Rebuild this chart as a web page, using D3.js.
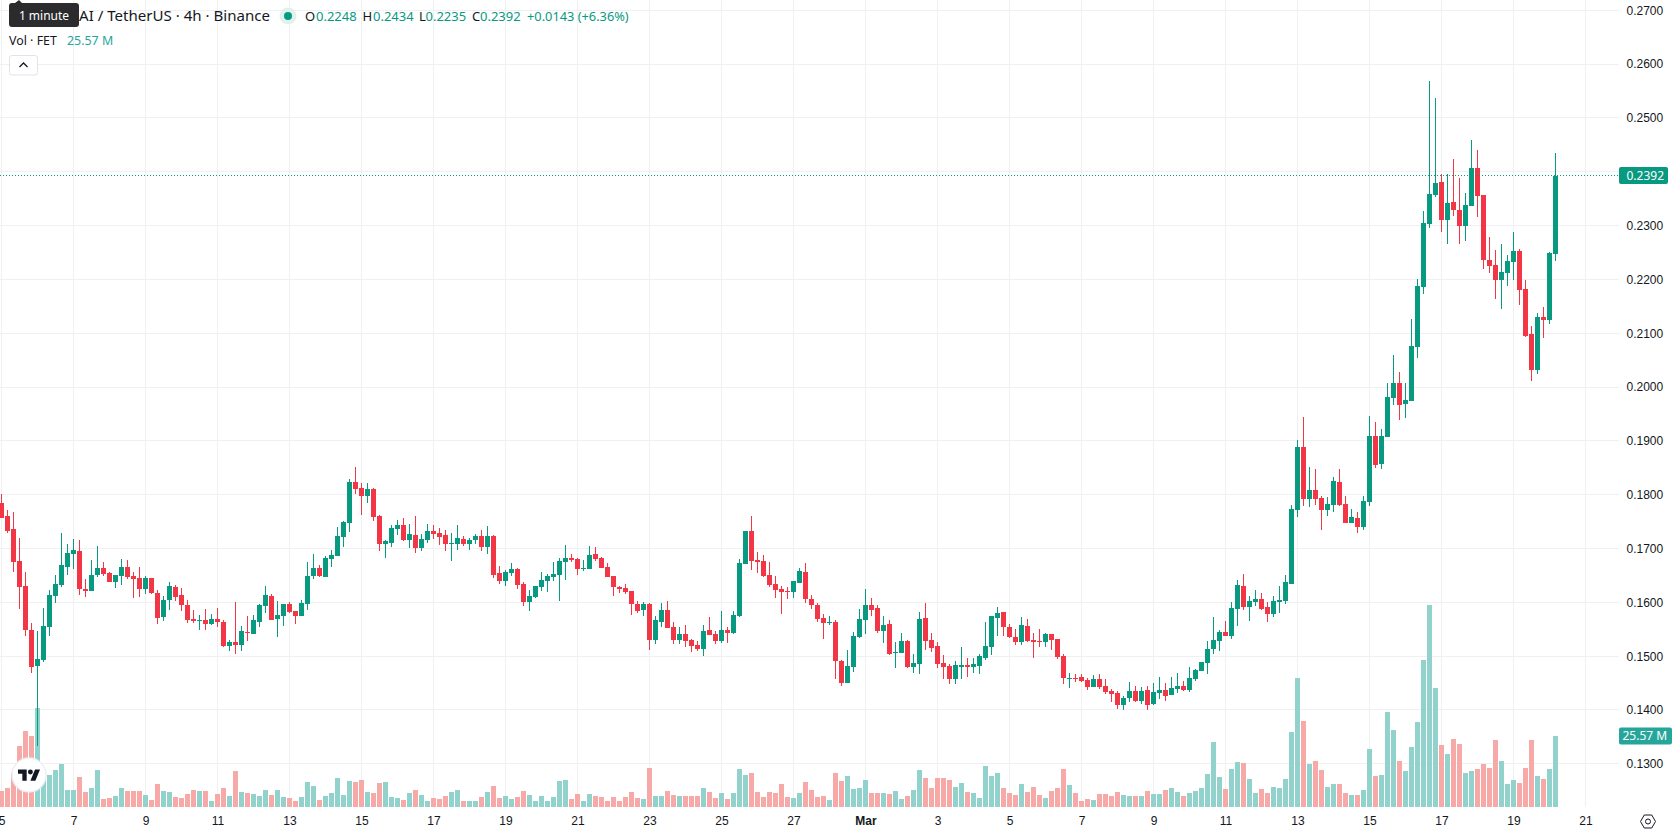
<!DOCTYPE html>
<html>
<head>
<meta charset="utf-8">
<title>FET / USDT 4h</title>
<script src="https://cdn.jsdelivr.net/npm/d3@7/dist/d3.min.js"></script>
<style>
  html, body { margin: 0; padding: 0; background: #fff; overflow: hidden; }
  svg { display: block; font-family: "Noto Sans", sans-serif; }
  .axis text { fill: #131722; font-size: 12px; }
  .axis .domain { display: none; }
</style>
</head>
<body>
<svg id="chart" width="1678" height="835"></svg>
<script>
// FET/USDT 4-hour candles, oldest first; the first bar opens at 5 Feb 2023 00:00 UTC.
const opens = [
.1785,.1760,.1736,.1677,.1630,.1549,.1482,.1493,.1554,.1612,
.1632,.1666,.1690,.1695,.1625,.1621,.1651,.1664,.1655,.1638,
.1649,.1666,.1649,.1645,.1625,.1645,.1617,.1573,.1604,.1628,
.1614,.1595,.1569,.1565,.1567,.1560,.1569,.1563,.1519,.1526,
.1521,.1545,.1541,.1563,.1593,.1612,.1569,.1575,.1597,.1584,
.1575,.1597,.1649,.1664,.1647,.1680,.1686,.1721,.1747,.1824,
.1812,.1798,.1811,.1760,.1708,.1710,.1736,.1744,.1716,.1725,
.1701,.1716,.1733,.1729,.1725,.1708,.1708,.1718,.1708,.1716,
.1723,.1703,.1723,.1655,.1640,.1655,.1662,.1634,.1601,.1610,
.1628,.1640,.1647,.1651,.1675,.1682,.1681,.1662,.1662,.1690,
.1682,.1666,.1649,.1628,.1627,.1621,.1597,.1586,.1597,.1530,
.1563,.1586,.1554,.1530,.1541,.1530,.1521,.1513,.1549,.1541,
.1528,.1549,.1543,.1575,.1671,.1733,.1679,.1677,.1651,.1634,
.1625,.1621,.1619,.1636,.1656,.1606,.1595,.1571,.1562,.1563,
.1491,.1450,.1480,.1536,.1567,.1595,.1589,.1547,.1560,.1506,
.1506,.1528,.1480,.1485,.1571,.1530,.1519,.1487,.1482,.1458,
.1480,.1484,.1480,.1482,.1497,.1517,.1571,.1582,.1554,.1536,
.1526,.1556,.1530,.1528,.1526,.1541,.1532,.1500,.1458,.1460,
.1461,.1456,.1443,.1458,.1445,.1435,.1432,.1409,.1422,.1435,
.1417,.1437,.1411,.1432,.1437,.1428,.1439,.1445,.1437,.1458,
.1472,.1487,.1513,.1528,.1545,.1537,.1588,.1630,.1591,.1601,
.1606,.1591,.1578,.1601,.1603,.1634,.1771,.1889,.1792,.1809,
.1794,.1771,.1781,.1824,.1783,.1747,.1757,.1740,.1786,.1909,
.1857,.1907,.1980,.2007,.1968,.1974,.2074,.2186,.2303,.2357,
.2381,.2310,.2344,.2329,.2299,.2336,.2407,.2357,.2236,.2227,
.2199,.2212,.2232,.2253,.2182,.2098,.2032,.2130,.2124,.2248];

const highs = [
.1801,.1771,.1768,.1719,.1656,.1562,.1547,.1590,.1623,.1651,
.1729,.1708,.1718,.1716,.1643,.1679,.1705,.1675,.1656,.1651,
.1680,.1679,.1656,.1666,.1649,.1645,.1623,.1612,.1638,.1632,
.1627,.1604,.1586,.1577,.1588,.1578,.1590,.1567,.1530,.1601,
.1556,.1575,.1577,.1597,.1630,.1615,.1603,.1597,.1601,.1584,
.1604,.1675,.1690,.1669,.1686,.1697,.1740,.1751,.1829,.1851,
.1822,.1822,.1812,.1762,.1716,.1744,.1753,.1757,.1746,.1760,
.1727,.1746,.1744,.1738,.1734,.1729,.1744,.1723,.1720,.1727,
.1734,.1742,.1725,.1668,.1660,.1673,.1664,.1638,.1623,.1630,
.1656,.1653,.1675,.1682,.1706,.1690,.1682,.1679,.1705,.1703,
.1684,.1673,.1649,.1630,.1634,.1621,.1603,.1601,.1599,.1575,
.1599,.1603,.1563,.1554,.1558,.1532,.1528,.1558,.1573,.1547,
.1584,.1554,.1584,.1680,.1733,.1760,.1693,.1688,.1675,.1649,
.1630,.1629,.1640,.1664,.1673,.1614,.1599,.1578,.1575,.1567,
.1493,.1511,.1545,.1588,.1625,.1608,.1595,.1575,.1567,.1526,
.1543,.1530,.1504,.1582,.1599,.1543,.1526,.1502,.1485,.1491,
.1517,.1497,.1497,.1504,.1563,.1575,.1591,.1582,.1560,.1551,
.1573,.1569,.1543,.1551,.1543,.1541,.1532,.1504,.1469,.1467,
.1467,.1460,.1465,.1467,.1458,.1439,.1435,.1426,.1452,.1445,
.1443,.1445,.1450,.1461,.1450,.1461,.1469,.1454,.1480,.1476,
.1489,.1528,.1573,.1549,.1565,.1601,.1642,.1653,.1612,.1623,
.1617,.1601,.1612,.1630,.1651,.1781,.1902,.1944,.1851,.1848,
.1797,.1796,.1833,.1848,.1797,.1773,.1768,.1797,.1946,.1935,
.1922,.2007,.2060,.2028,.2007,.2126,.2201,.2327,.2568,.2537,
.2396,.2396,.2424,.2388,.2360,.2459,.2440,.2357,.2279,.2255,
.2266,.2245,.2288,.2256,.2199,.2113,.2137,.2149,.2251,.2434];

const lows = [
.1757,.1729,.1656,.1588,.1537,.1469,.1333,.1489,.1537,.1599,
.1628,.1651,.1662,.1614,.1610,.1621,.1647,.1649,.1638,.1627,
.1632,.1643,.1608,.1610,.1615,.1615,.1560,.1565,.1586,.1603,
.1584,.1562,.1562,.1549,.1549,.1558,.1554,.1517,.1510,.1504,
.1510,.1528,.1541,.1554,.1580,.1567,.1536,.1556,.1580,.1560,
.1575,.1586,.1643,.1647,.1647,.1666,.1686,.1703,.1731,.1801,
.1762,.1785,.1751,.1695,.1682,.1703,.1725,.1714,.1701,.1692,
.1695,.1710,.1718,.1706,.1695,.1677,.1697,.1705,.1697,.1708,
.1695,.1690,.1645,.1634,.1630,.1649,.1625,.1593,.1584,.1608,
.1621,.1619,.1640,.1603,.1642,.1675,.1651,.1658,.1662,.1677,
.1664,.1647,.1612,.1617,.1615,.1577,.1580,.1575,.1511,.1523,
.1554,.1552,.1523,.1523,.1517,.1508,.1510,.1500,.1539,.1523,
.1525,.1525,.1541,.1573,.1671,.1660,.1655,.1647,.1628,.1608,
.1578,.1606,.1608,.1636,.1599,.1588,.1563,.1532,.1558,.1458,
.1445,.1450,.1471,.1534,.1541,.1575,.1543,.1525,.1502,.1478,
.1506,.1478,.1469,.1467,.1511,.1508,.1478,.1458,.1448,.1448,
.1458,.1461,.1469,.1467,.1493,.1502,.1537,.1537,.1534,.1521,
.1521,.1526,.1497,.1517,.1517,.1511,.1495,.1448,.1441,.1452,
.1452,.1437,.1443,.1439,.1430,.1415,.1402,.1400,.1415,.1415,
.1411,.1400,.1409,.1420,.1417,.1428,.1432,.1435,.1433,.1454,
.1472,.1467,.1504,.1510,.1537,.1532,.1556,.1586,.1565,.1593,
.1586,.1563,.1573,.1580,.1597,.1634,.1758,.1779,.1777,.1781,
.1734,.1760,.1768,.1779,.1747,.1747,.1729,.1734,.1779,.1850,
.1848,.1907,.1967,.1939,.1942,.1974,.2054,.2173,.2295,.2353,
.2288,.2266,.2318,.2266,.2271,.2336,.2316,.2219,.2212,.2164,
.2145,.2188,.2199,.2152,.2093,.2011,.2024,.2091,.2117,.2235];

const closes = [
.1757,.1732,.1675,.1628,.1549,.1480,.1495,.1556,.1614,.1634,
.1669,.1692,.1697,.1625,.1621,.1651,.1664,.1653,.1638,.1651,
.1666,.1647,.1643,.1625,.1645,.1617,.1571,.1604,.1630,.1610,
.1595,.1567,.1565,.1567,.1560,.1569,.1563,.1519,.1526,.1521,
.1547,.1543,.1567,.1595,.1614,.1567,.1577,.1597,.1582,.1575,
.1599,.1649,.1664,.1649,.1682,.1688,.1723,.1749,.1824,.1811,
.1798,.1811,.1758,.1708,.1714,.1738,.1744,.1716,.1727,.1701,
.1718,.1733,.1727,.1721,.1708,.1710,.1720,.1708,.1716,.1723,
.1703,.1723,.1651,.1640,.1656,.1662,.1632,.1601,.1612,.1630,
.1642,.1649,.1653,.1677,.1682,.1679,.1662,.1664,.1688,.1681,
.1664,.1647,.1628,.1625,.1619,.1597,.1584,.1597,.1530,.1567,
.1586,.1552,.1530,.1541,.1528,.1519,.1513,.1547,.1539,.1528,
.1549,.1543,.1577,.1673,.1733,.1677,.1675,.1649,.1632,.1623,
.1619,.1619,.1640,.1658,.1606,.1595,.1569,.1562,.1563,.1491,
.1450,.1482,.1537,.1569,.1595,.1586,.1547,.1558,.1504,.1508,
.1528,.1480,.1487,.1569,.1528,.1515,.1485,.1480,.1458,.1484,
.1484,.1480,.1485,.1500,.1519,.1575,.1580,.1554,.1536,.1526,
.1558,.1528,.1526,.1526,.1541,.1530,.1498,.1459,.1460,.1458,
.1454,.1443,.1458,.1443,.1433,.1430,.1409,.1422,.1435,.1417,
.1435,.1409,.1433,.1437,.1426,.1441,.1445,.1437,.1460,.1474,
.1489,.1513,.1530,.1545,.1537,.1589,.1632,.1591,.1603,.1606,
.1588,.1578,.1603,.1604,.1638,.1773,.1889,.1792,.1809,.1792,
.1771,.1783,.1825,.1781,.1747,.1758,.1740,.1788,.1909,.1855,
.1909,.1981,.2007,.1967,.1976,.2076,.2188,.2305,.2359,.2379,
.2310,.2342,.2329,.2299,.2338,.2407,.2355,.2236,.2225,.2199,
.2214,.2234,.2253,.2180,.2095,.2032,.2130,.2124,.2249,.2392];

// Traded volume per bar, millions of FET.
const volumes = [
5.8,6.8,12.2,22.0,27.4,25.6,35.6,13.3,11.5,13.3,
15.5,6.1,6.1,10.8,5.4,6.8,13.3,2.9,3.2,4.0,
6.8,5.8,5.8,5.8,4.3,2.5,8.3,5.8,5.4,3.6,
3.2,4.7,6.1,5.8,5.8,2.2,4.7,6.8,4.0,13.0,
5.4,5.0,4.7,4.0,6.1,4.3,6.1,3.6,3.2,2.2,
3.6,9.0,7.6,2.5,4.0,5.0,10.4,4.3,9.4,9.0,
9.7,5.4,5.0,8.6,9.0,3.6,3.2,2.5,5.0,6.1,
4.3,2.2,3.2,2.9,4.0,5.4,6.1,2.2,2.2,2.2,
3.6,5.4,7.6,3.2,4.0,2.9,3.6,5.8,4.3,2.2,
4.0,2.2,3.6,9.4,9.7,2.9,4.7,2.2,4.7,4.0,
3.6,2.2,3.6,2.2,3.6,5.4,3.2,2.9,14.0,4.0,
4.0,5.8,4.3,4.0,4.0,4.0,4.0,6.8,5.4,3.2,
5.0,2.9,5.0,13.7,11.5,12.2,5.4,3.6,5.4,5.0,
8.3,3.6,3.2,5.0,9.0,6.1,3.6,4.0,2.5,12.2,
9.4,11.2,6.5,6.8,9.7,5.0,5.0,5.0,4.7,5.8,
2.9,4.0,6.1,13.3,10.4,6.8,10.4,10.4,9.7,7.2,
8.6,5.4,5.0,3.2,14.8,11.2,12.2,6.8,5.0,4.3,
8.3,5.4,7.2,4.3,3.2,5.8,6.8,13.7,7.9,5.0,
2.2,2.9,2.5,4.7,4.7,4.0,5.4,4.3,4.0,4.0,
4.0,5.8,4.7,4.7,6.1,6.8,5.4,4.0,5.0,5.8,
6.8,11.9,23.4,10.8,6.5,13.7,16.2,15.8,10.1,5.0,
6.5,5.0,7.2,6.8,10.1,27.0,46.4,31.0,15.5,16.6,
13.3,7.2,8.3,8.3,5.0,4.3,4.3,6.1,20.9,11.2,
11.5,34.2,27.7,16.6,13.0,21.6,30.6,52.9,72.7,42.8,
22.3,19.1,24.5,22.7,12.2,13.0,13.7,15.5,14.0,24.1,
16.6,8.3,9.7,8.6,14.0,24.1,11.2,10.1,13.7,25.57];

const firstBar = Date.UTC(2023, 1, 5);
const barHours = 4;

// Price gridlines and labels; the last-price tag sits on top of the 0.2400 label.
const priceTicks = [.27,.26,.25,.24,.23,.22,.21,.20,.19,.18,.17,.16,.15,.14,.13];

// Date gridlines with their labels, every two days.
const timeTicks = [
  [1,5,"5"],[1,7,"7"],[1,9,"9"],[1,11,"11"],[1,13,"13"],[1,15,"15"],[1,17,"17"],
  [1,19,"19"],[1,21,"21"],[1,23,"23"],[1,25,"25"],[1,27,"27"],[2,1,"Mar"],[2,3,"3"],
  [2,5,"5"],[2,7,"7"],[2,9,"9"],[2,11,"11"],[2,13,"13"],[2,15,"15"],[2,17,"17"],
  [2,19,"19"],[2,21,"21"]
];

const headerTitle = "AI / TetherUS · 4h · Binance";
const ohlcLegend = [
  ["O", "0.2248", 305, 316], ["H", "0.2434", 362.5, 373],
  ["L", "0.2235", 419, 425.5], ["C", "0.2392", 472, 480]
];
const changeText = "+0.0143 (+6.36%)";
const volumeTitle = "Vol · FET";
const volumeText = "25.57 M";
const lastPriceText = "0.2392";

const UP = "#089981", DOWN = "#f23645";
const VOL_UP = "#92d2cc", VOL_DOWN = "#f7a9a7";
const GRID = "#f0f0f2", INK = "#131722";
const PANE_RIGHT = 1619, PANE_BOTTOM = 807;

const svg = d3.select("#chart");

const lastBar = firstBar + (opens.length - 1) * barHours * 3600e3;
const x = d3.scaleUtc().domain([firstBar, lastBar]).range([1.5, 1555.5]);
const y = d3.scaleLinear().domain([.13, .27]).range([763.83, 10.2]);
const yVol = d3.scaleLinear().domain([0, d3.max(volumes)]).range([PANE_BOTTOM, 605]);

const bars = opens.map((o, i) => ({
  t: firstBar + i * barHours * 3600e3,
  o, h: highs[i], l: lows[i], c: closes[i], v: volumes[i],
  up: closes[i] >= o
}));
const tickDates = timeTicks.map(d => new Date(Date.UTC(2023, d[0], d[1])));
const labelFor = new Map(timeTicks.map((d, i) => [+tickDates[i], d[2]]));

// Grid
const grid = svg.append("g").attr("stroke", GRID).attr("stroke-width", 1).attr("shape-rendering", "crispEdges");
grid.selectAll("line.h").data(priceTicks).join("line").attr("class", "h")
  .attr("x1", 0).attr("x2", PANE_RIGHT)
  .attr("y1", d => Math.floor(y(d)) + .5).attr("y2", d => Math.floor(y(d)) + .5);
grid.selectAll("line.v").data(tickDates).join("line").attr("class", "v")
  .attr("x1", d => x(d)).attr("x2", d => x(d))
  .attr("y1", 0).attr("y2", PANE_BOTTOM);

// Volume histogram
svg.append("g").attr("shape-rendering", "crispEdges").selectAll("rect").data(bars).join("rect")
  .attr("x", d => x(d.t) - 2.5).attr("width", 5)
  .attr("y", d => Math.round(yVol(d.v))).attr("height", d => PANE_BOTTOM - Math.round(yVol(d.v)))
  .attr("fill", d => d.up ? VOL_UP : VOL_DOWN);

// Candles: wick first, body on top
const candles = svg.append("g").attr("shape-rendering", "crispEdges");
candles.selectAll("rect.wick").data(bars).join("rect").attr("class", "wick")
  .attr("x", d => x(d.t) - .5).attr("width", 1)
  .attr("y", d => Math.round(y(d.h)))
  .attr("height", d => Math.max(1, Math.round(y(d.l)) - Math.round(y(d.h))))
  .attr("fill", d => d.up ? UP : DOWN);
candles.selectAll("rect.body").data(bars).join("rect").attr("class", "body")
  .attr("x", d => x(d.t) - 2.5).attr("width", 5)
  .attr("y", d => Math.round(y(Math.max(d.o, d.c))))
  .attr("height", d => Math.max(1, Math.round(y(Math.min(d.o, d.c))) - Math.round(y(Math.max(d.o, d.c)))))
  .attr("fill", d => d.up ? UP : DOWN);

// Last-price line
const lastClose = closes[closes.length - 1];
const lastY = Math.floor(y(lastClose)) + .5;
svg.append("line").attr("x1", 0).attr("x2", PANE_RIGHT).attr("y1", lastY).attr("y2", lastY)
  .attr("stroke", UP).attr("stroke-width", 1).attr("stroke-dasharray", "1,2")
  .attr("shape-rendering", "crispEdges");

// Axes
const priceAxis = d3.axisRight(y)
  .tickValues(priceTicks)
  .tickSize(0).tickPadding(7.5).tickFormat(d3.format(".4f"));
svg.append("g").attr("class", "axis").attr("transform", `translate(${PANE_RIGHT},0)`).call(priceAxis)
  .call(g => g.select(".domain").remove());

const timeAxis = d3.axisBottom(x)
  .tickValues(tickDates).tickSize(0).tickPadding(9)
  .tickFormat(d => labelFor.get(+d));
svg.append("g").attr("class", "axis").attr("transform", `translate(0,${PANE_BOTTOM})`).call(timeAxis)
  .call(g => g.select(".domain").remove())
  .call(g => g.selectAll("text").filter(function () { return d3.select(this).text() === "Mar"; })
    .style("font-weight", 600));

// Value tags on the price axis
function tag(cy, width, textX, fill, label) {
  svg.append("rect").attr("x", 1619).attr("y", cy - 8.5).attr("width", width).attr("height", 17)
    .attr("rx", 2).attr("fill", fill);
  svg.append("text").attr("x", textX).attr("y", cy + 4.3).attr("fill", "#fff")
    .attr("font-size", 12).text(label);
}
tag(lastY, 49, 1626.5, UP, lastPriceText);
tag(yVol(volumes[volumes.length - 1]), 53, 1622.5, "#26a69a", volumeText);

// Chart settings icon on the axis corner
const gear = svg.append("g").attr("transform", "translate(1648,821.5)")
  .attr("fill", "none").attr("stroke", INK).attr("stroke-width", 1);
gear.append("path").attr("d", d3.line()(d3.range(7).map(i => {
  const a = i * Math.PI / 3;
  return [7.5 * Math.cos(a), 7.5 * Math.sin(a)];
})));
gear.append("circle").attr("r", 2.5);

// Legend block
const legend = svg.append("g").attr("font-size", 13);
legend.append("text").attr("x", 79).attr("y", 21)
  .attr("font-size", 14.5).attr("textLength", 191).attr("lengthAdjust", "spacingAndGlyphs")
  .attr("fill", INK).text(headerTitle);
legend.append("circle").attr("cx", 288).attr("cy", 16).attr("r", 8.5).attr("fill", "#e0f2ef");
legend.append("circle").attr("cx", 288).attr("cy", 16).attr("r", 4).attr("fill", UP);
ohlcLegend.forEach(([k, v, kx, vx]) => {
  legend.append("text").attr("x", kx).attr("y", 20.5).attr("fill", INK).text(k);
  legend.append("text").attr("x", vx).attr("y", 20.5).attr("fill", UP).text(v);
});
legend.append("text").attr("x", 527).attr("y", 20.5).attr("font-size", 12.8).attr("fill", UP).text(changeText);
legend.append("text").attr("x", 9).attr("y", 45).attr("font-size", 12.4).attr("fill", INK).text(volumeTitle);
legend.append("text").attr("x", 67).attr("y", 45).attr("font-size", 12.4).attr("fill", "#26a69a").text(volumeText);

// Collapse button
svg.append("rect").attr("x", 9.5).attr("y", 55.5).attr("width", 28).attr("height", 19.5)
  .attr("rx", 2.5).attr("fill", "#fff").attr("stroke", "#e0e3eb");
svg.append("path").attr("d", "M19.5 67 L23.5 63 L27.5 67").attr("fill", "none")
  .attr("stroke", INK).attr("stroke-width", 1.3);

// Hover tooltip over the legend
svg.append("path").attr("d", "M9 6 a3 3 0 0 1 3 -3 h3 l4 -3 l3 3 h54 a3 3 0 0 1 3 3 v18 a3 3 0 0 1 -3 3 h-64 a3 3 0 0 1 -3 -3 z")
  .attr("fill", "#2b2b2d");
svg.append("text").attr("x", 44).attr("y", 20).attr("text-anchor", "middle").attr("fill", "#fff")
  .attr("font-size", 12).text("1 minute");

// Attribution badge
svg.append("circle").attr("cx", 29).attr("cy", 775).attr("r", 17).attr("fill", "#fff")
  .attr("stroke", "#eceff4").attr("stroke-width", 1.5);
const badge = svg.append("g").attr("transform", "translate(18,767) scale(.62)").attr("fill", "#131722");
badge.append("path").attr("d", "M14 22H7V11H0V4h14v18zM28 22h-8l7.5-18h8L28 22z");
badge.append("circle").attr("cx", 20).attr("cy", 8).attr("r", 4);
</script>
</body>
</html>
